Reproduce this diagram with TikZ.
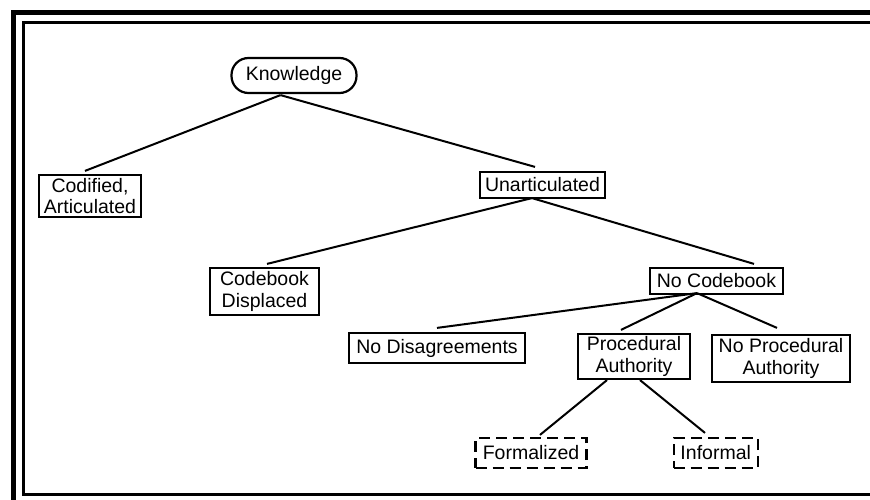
\documentclass[tikz,border=0pt]{standalone}
\usepackage{fontspec}
\setmainfont{Liberation Sans}
\begin{document}
\begin{tikzpicture}[x=1pt,y=-1pt,
  box/.style={draw, line width=2.2pt, inner sep=0pt, align=center,
    font=\fontsize{19.5}{21.5}\selectfont},
  dbox/.style={box, dash pattern=on 11pt off 6pt},
  roundbox/.style={box, rounded corners=17pt},
  link/.style={line width=2pt},
  frameouter/.style={line width=5pt},
  frameinner/.style={line width=2.5pt}]
\clip (0,0) rectangle (870,500);
\fill[white] (0,0) rectangle (870,500);
% frame
\draw[frameouter] (13.5,13) rectangle (885,515);
\draw[frameinner] (23.5,22.5) rectangle (885,494.5);
% nodes
\node[roundbox, minimum width=125, minimum height=35] (know) at (294,75.5) {Knowledge};
\node[box, minimum width=102, minimum height=42] (cod) at (90,196) {Codified,\\Articulated};
\node[box, minimum width=125, minimum height=26] (unart) at (542.5,185) {Unarticulated};
\node[box, minimum width=109, minimum height=47] (cbd) at (264.5,291.5) {Codebook\\Displaced};
\node[box, minimum width=133, minimum height=26] (nocb) at (716.5,281) {No Codebook};
\node[box, minimum width=176, minimum height=30] (nodis) at (437,348) {No Disagreements};
\node[box, minimum width=112, minimum height=45] (pa) at (634,356.5) {Procedural\\Authority};
\node[box, minimum width=138, minimum height=47] (npa) at (781,358.5) {No Procedural\\Authority};
\node[dbox, minimum width=111, minimum height=30] (form) at (531,453) {Formalized};
\node[dbox, minimum width=84, minimum height=30] (inf) at (715.7,453) {Informal};
% connectors
\draw[link] ([shift={(-13.5,1)}]know.south) -- ([shift={(-5,-3)}]cod.north);
\draw[link] ([shift={(-13.5,1)}]know.south) -- ([shift={(-7.5,-4)}]unart.north);
\draw[link] ([shift={(-10.5,-1)}]unart.south) -- ([shift={(2.5,-3)}]cbd.north);
\draw[link] ([shift={(-10.5,-1)}]unart.south) -- ([shift={(37.5,-3)}]nocb.north);
\draw[link] ([shift={(-19.5,-2)}]nocb.south) -- ([shift={(0,-4)}]nodis.north);
\draw[link] ([shift={(-19.5,-2)}]nocb.south) -- ([shift={(-13,-3)}]pa.north);
\draw[link] ([shift={(-19.5,-2)}]nocb.south) -- ([shift={(-4,-6)}]npa.north);
\draw[link] ([shift={(-27,0)}]pa.south) -- ([shift={(9,-2)}]form.north);
\draw[link] ([shift={(6,0)}]pa.south) -- ([shift={(-10.7,-4)}]inf.north);
\end{tikzpicture}
\end{document}
